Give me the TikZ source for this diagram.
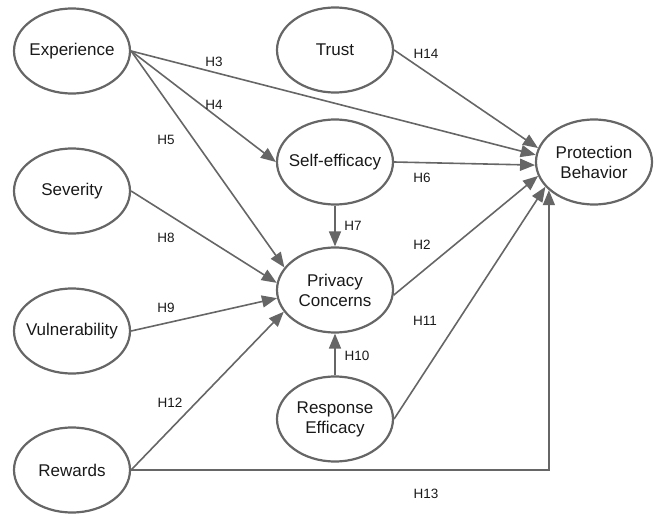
\documentclass[tikz,border=0pt]{standalone}
\usepackage{fontspec}
\setmainfont{Liberation Sans}
\usetikzlibrary{shapes.geometric,arrows.meta}
\definecolor{lc}{HTML}{666666}
\begin{document}
\begin{tikzpicture}[x=1pt,y=-1pt,
  var/.style={ellipse,draw=lc,line width=2.2pt,minimum width=116pt,minimum height=85pt,inner ysep=0pt,inner xsep=-20pt,align=center,font=\fontsize{17}{20}\selectfont,text=black!90},
  conn/.style={draw=lc,line width=1.6pt,-{Triangle[length=15pt,width=12pt]}},
  lab/.style={font=\fontsize{13.5}{16}\selectfont,inner sep=0pt,text=black!90}]
\useasboundingbox (0,0) rectangle (654,514);
\node[var] (E) at (72,51) {Experience};
\node[var] (S) at (72,191) {Severity};
\node[var] (V) at (72,331) {Vulnerability};
\node[var] (R) at (72,470) {Rewards};
\node[var] (T) at (335,50) {Trust};
\node[var] (SE) at (335,162) {Self-efficacy};
\node[var] (PC) at (335,290) {Privacy\\Concerns};
\node[var] (RE) at (335,419) {Response\\Efficacy};
\node[var] (PB) at (594,162) {Protection\\Behavior};

\draw[conn] (E.east) -- (PB.173);
\draw[conn] (E.east) -- (SE.west);
\draw[conn] (E.east) -- (PC.156);
\draw[conn] (S.east) -- (PC.173);
\draw[conn] (V.east) -- (PC.188);
\draw[conn] (R.east) -- (PC.203);
\draw[conn] (R.east) -| (PB.212);
\draw[conn] (T.east) -- (PB.166);
\draw[conn] (SE.east) -- (PB.183);
\draw[conn] (SE.south) -- (PC.north);
\draw[conn] (RE.north) -- (PC.south);
\draw[conn] (PC.-5) -- (PB.194);
\draw[conn] (RE.east) -- (PB.207);

\node[lab] (h3) at (214,62) {H3};
\node[lab] (h4) at (214,105) {H4};
\node[lab] (h5) at (166,140) {H5};
\node[lab] (h8) at (166,238) {H8};
\node[lab] (h9) at (166,308) {H9};
\node[lab] (h12) at (170,403) {H12};
\node[lab] (h14) at (426,54) {H14};
\node[lab] (h6) at (422,178) {H6};
\node[lab] (h7) at (353,226) {H7};
\node[lab] (h2) at (422,245) {H2};
\node[lab] (h11) at (425,321) {H11};
\node[lab] (h10) at (357,356) {H10};
\node[lab] (h13) at (426,494) {H13};
\end{tikzpicture}
\end{document}
